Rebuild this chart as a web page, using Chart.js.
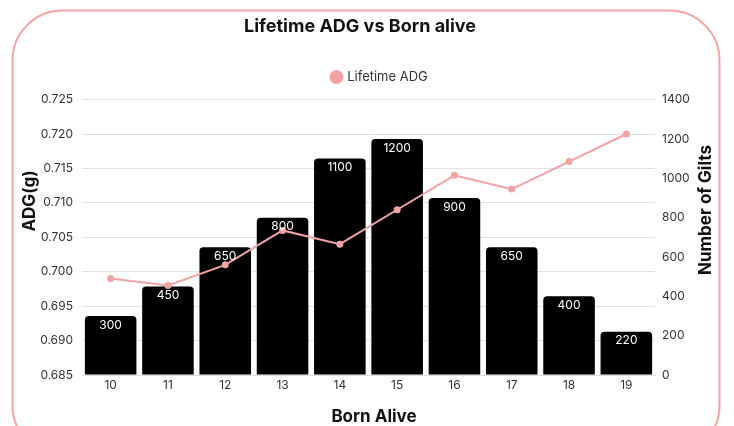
<!DOCTYPE html>
<html>
<head>
<meta charset="utf-8">
<script src="https://cdn.jsdelivr.net/npm/chart.js@4/dist/chart.umd.min.js"></script>
<style>
  html, body { margin: 0; padding: 0; background: #fff; overflow: hidden; }
  #wrap { position: relative; width: 734px; height: 426px; }
</style>
</head>
<body>
<div id="wrap"><canvas id="c" width="734" height="426"></canvas></div>
<script>
// Born-alive litter size categories
const categories = ['10', '11', '12', '13', '14', '15', '16', '17', '18', '19'];
// Lifetime average daily gain (g), left axis
const adgValues = [0.699, 0.698, 0.701, 0.706, 0.704, 0.709, 0.714, 0.712, 0.716, 0.720];
// Number of gilts per category, right axis
const giltCounts = [300, 450, 650, 800, 1100, 1200, 900, 650, 400, 220];

const FONT = 'Inter, "Open Sans", sans-serif';
const PINK = '#f2a3a3';
const TEXT = '#333333';
const LEFT_TITLE = 'ADG(g)';
const RIGHT_TITLE = 'Number of Gilts';
const BOTTOM_TITLE = 'Born Alive';

// Rounded pink frame around the whole card
const framePlugin = {
  id: 'frame',
  beforeDraw(chart) {
    const ctx = chart.ctx;
    ctx.save();
    ctx.strokeStyle = PINK;
    ctx.lineWidth = 2;
    ctx.beginPath();
    ctx.roundRect(12.5, 10.5, 707, 445, 50);
    ctx.stroke();
    ctx.restore();
  }
};

// Title and legend: nudged right of the layout centre and up,
// leaving a wider gap above the plot area
const headerShiftPlugin = {
  id: 'headerShift',
  afterLayout(chart) {
    const lg = chart.legend, tb = chart.titleBlock;
    lg.left += 34; lg.right += 34;
    lg.top -= 6; lg.bottom -= 6;
    tb.left += 14; tb.right += 14;
    tb.top -= 6; tb.bottom -= 6;
  }
};

// Axis titles; the vertical ones read bottom-to-top
const axisTitlePlugin = {
  id: 'axisTitles',
  afterDraw(chart) {
    const ctx = chart.ctx;
    const draw = (text, x, y, rotate) => {
      ctx.save();
      ctx.translate(x, y);
      if (rotate) ctx.rotate(-Math.PI / 2);
      ctx.fillStyle = '#111';
      ctx.font = 'bold 17px ' + FONT;
      ctx.textAlign = 'center';
      ctx.textBaseline = 'middle';
      ctx.fillText(text, 0, 0);
      ctx.restore();
    };
    draw(LEFT_TITLE, 30, 201, true);
    draw(RIGHT_TITLE, 706, 210, true);
    draw(BOTTOM_TITLE, 374, 417, false);
  }
};

// White value labels inside the top of each bar
const barLabelPlugin = {
  id: 'barLabels',
  afterDatasetsDraw(chart) {
    const meta = chart.getDatasetMeta(1);
    const ctx = chart.ctx;
    ctx.save();
    ctx.fillStyle = '#ffffff';
    ctx.font = '12px ' + FONT;
    ctx.textAlign = 'center';
    ctx.textBaseline = 'middle';
    meta.data.forEach((bar, i) => {
      ctx.fillText(String(giltCounts[i]), bar.x, bar.y + 9);
    });
    ctx.restore();
  }
};

new Chart(document.getElementById('c'), {
  data: {
    labels: categories,
    datasets: [
      {
        type: 'line',
        label: 'Lifetime ADG',
        data: adgValues,
        yAxisID: 'yAdg',
        borderColor: PINK,
        backgroundColor: PINK,
        borderWidth: 2,
        pointRadius: 2.5,
        pointHoverRadius: 3,
        tension: 0
      },
      {
        type: 'bar',
        label: RIGHT_TITLE,
        data: giltCounts,
        yAxisID: 'yGilts',
        backgroundColor: '#000000',
        borderRadius: { topLeft: 4, topRight: 4 },
        borderSkipped: 'bottom',
        barPercentage: 0.9,
        categoryPercentage: 1.0
      }
    ]
  },
  options: {
    responsive: false,
    animation: false,
    layout: { padding: { left: 0, right: 42, top: 10, bottom: 2 } },
    plugins: {
      title: {
        display: true,
        text: 'Lifetime ADG vs Born alive',
        color: '#111',
        font: { family: FONT, size: 18, weight: 'bold' },
        padding: { top: 12, bottom: 11.5 }
      },
      legend: {
        display: true,
        labels: {
          filter: item => item.datasetIndex === 0,
          usePointStyle: true,
          pointStyle: 'circle',
          boxWidth: 8.5,
          boxHeight: 8.5,
          color: TEXT,
          font: { family: FONT, size: 13 },
          padding: 21.5
        }
      },
      tooltip: { enabled: false }
    },
    scales: {
      x: {
        grid: { display: false, drawTicks: false },
        border: { color: '#dddddd' },
        ticks: { color: TEXT, font: { family: FONT, size: 12 }, padding: 3 },
        afterFit(scale) { scale.height = 49; }
      },
      yAdg: {
        position: 'left',
        min: 0.685,
        max: 0.725,
        ticks: {
          stepSize: 0.005,
          color: TEXT,
          font: { family: FONT, size: 12 },
          padding: 9,
          callback: v => Number(v).toFixed(3)
        },
        grid: { color: '#e2e2e2', drawTicks: false },
        border: { display: false },
        afterFit(scale) { scale.width = 82; }
      },
      yGilts: {
        position: 'right',
        min: 0,
        max: 1400,
        ticks: {
          stepSize: 200,
          color: TEXT,
          font: { family: FONT, size: 12 },
          padding: 7,
          callback: v => String(v)
        },
        grid: { drawOnChartArea: false, drawTicks: false },
        border: { display: false },
        afterFit(scale) { scale.width = 37; }
      }
    }
  },
  plugins: [framePlugin, headerShiftPlugin, barLabelPlugin, axisTitlePlugin]
});
</script>
</body>
</html>
